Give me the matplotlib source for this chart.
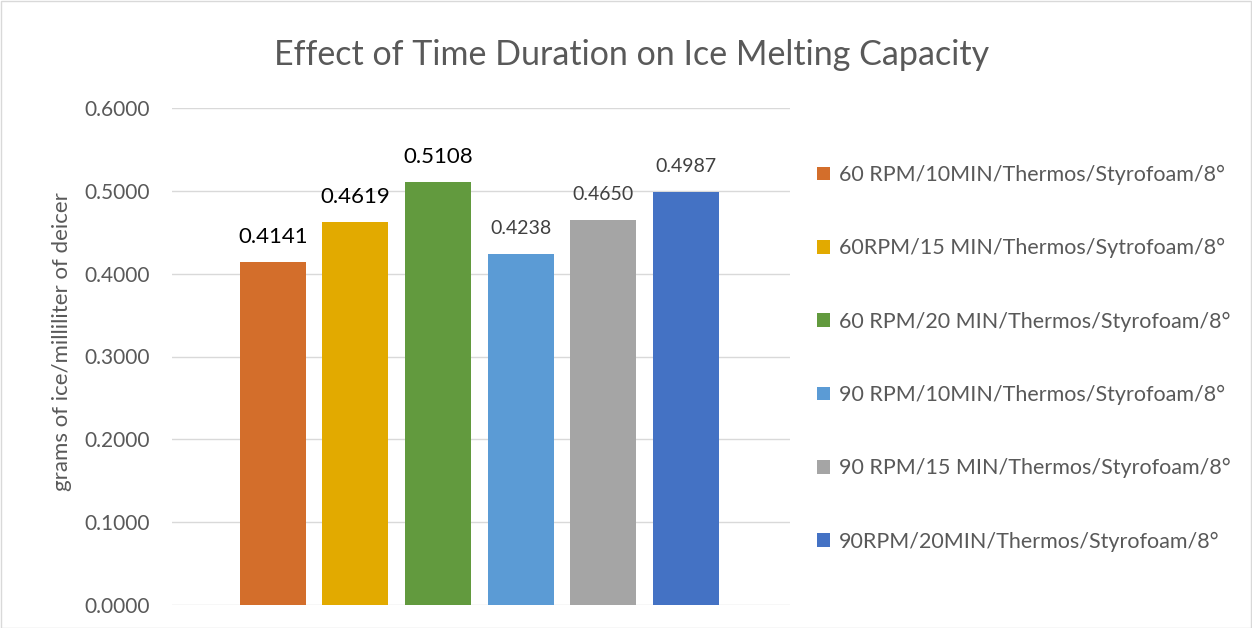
import matplotlib
matplotlib.use("Agg")
import matplotlib.pyplot as plt
from matplotlib.patches import Patch, Rectangle

plt.rcParams['font.family'] = ['Lato', 'DejaVu Sans']

labels = ["60 RPM/10MIN/Thermos/Styrofoam/8°",
          "60RPM/15 MIN/Thermos/Sytrofoam/8°",
          "60 RPM/20 MIN/Thermos/Styrofoam/8°",
          "90 RPM/10MIN/Thermos/Styrofoam/8°",
          "90 RPM/15 MIN/Thermos/Styrofoam/8°",
          "90RPM/20MIN/Thermos/Styrofoam/8°"]
values = [0.4141, 0.4619, 0.5108, 0.4238, 0.4650, 0.4987]
colors = ["#D36E2B", "#E2AA00", "#629A3E", "#5B9BD5", "#A5A5A5", "#4472C4"]
label_colors = ["#000000", "#000000", "#000000", "#404040", "#404040", "#404040"]
label_sizes = [16, 16, 16, 14, 14, 14]
yticks = [0.0, 0.1, 0.2, 0.3, 0.4, 0.5, 0.6]

W, H = 1252, 628
fig = plt.figure(figsize=(W / 100, H / 100), dpi=100)
fig.patch.set_facecolor("white")
left, right, top, bottom = 172, 790, 108, 605
ax = fig.add_axes([left / W, 1 - bottom / H, (right - left) / W, (bottom - top) / H])

xs = list(range(len(values)))
ax.bar(xs, values, width=0.8, color=colors, zorder=3)
for x, v, c, s in zip(xs, values, label_colors, label_sizes):
    ax.annotate(f"{v:.4f}", (x, v), xytext=(0, 18), textcoords="offset points",
                ha="center", va="center", color=c, fontsize=s)

ax.set_ylim(0, 0.6)
ax.set_xlim(-1.22, 6.26)
ax.set_yticks(yticks)
ax.set_yticklabels([f"{t:.4f}" for t in yticks])
ax.tick_params(axis="y", length=0, labelsize=15, labelcolor="#595959", pad=16)
ax.set_xticks([])
ax.grid(axis="y", color="#D9D9D9", linewidth=1, zorder=0)
for sp in ax.spines.values():
    sp.set_visible(False)
ax.set_ylabel("grams of ice/milliliter of deicer", fontsize=16, color="#595959")
ax.yaxis.set_label_coords(-0.162, 0.53)

fig.text(632 / W, 1 - 55 / H, "Effect of Time Duration on Ice Melting Capacity",
         ha="center", va="center", fontsize=24.5, color="#595959")

handles = [Patch(facecolor=c, edgecolor="none") for c in colors]
leg = fig.legend(handles, labels, loc="upper left", bbox_to_anchor=(817 / W, 1 - 165 / H),
                 frameon=False, fontsize=15.5, labelcolor="#595959",
                 handlelength=0.6, handleheight=0.6, handletextpad=0.4,
                 labelspacing=2.47, borderaxespad=0, borderpad=0)

fig.add_artist(Rectangle((0.5 / W, 0), 1 - 1.5 / W, 1 - 1 / H, transform=fig.transFigure,
                         fill=False, edgecolor="#D9D9D9", linewidth=1))

fig.savefig("out.png", dpi=100)
